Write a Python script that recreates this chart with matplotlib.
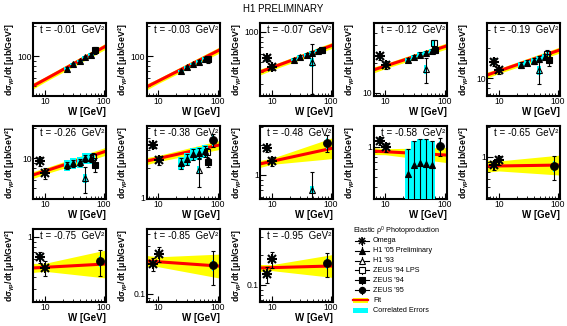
import numpy as np
import matplotlib
matplotlib.use("Agg")
import matplotlib.pyplot as plt
from matplotlib.patches import Rectangle
from matplotlib.ticker import LogLocator, FuncFormatter, NullFormatter

plt.rcParams['font.family'] = ['Liberation Sans', 'DejaVu Sans']
plt.rcParams['mathtext.fontset'] = 'custom'
plt.rcParams['mathtext.rm'] = 'Liberation Sans'
plt.rcParams['mathtext.it'] = 'Liberation Sans:italic'
plt.rcParams['mathtext.bf'] = 'Liberation Sans:bold'

# t bins [GeV^2]
t_bins = [-0.01, -0.03, -0.07, -0.12, -0.19, -0.26, -0.38, -0.48, -0.58, -0.65, -0.75, -0.85, -0.95]

# y range of every panel [mub/GeV^2]
y_lo = [39.8, 39.8, 22.9, 9.33, 6.61, 3.89, 0.977, 0.575, 0.302, 0.38, 0.224, 0.083, 0.0676]
y_hi = [214, 214, 123, 50.1, 35.5, 20.9, 5.25, 3.09, 1.62, 2.04, 1.20, 0.447, 0.363]
W_lim = [6.3, 108]
W_pivot = 10

# Regge fit: value at the two ends of the W range, error band half width (decades)
fit_left = [50.1, 49, 39.8, 17.0, 10.7, 6.76, 2.34, 1.29, 0.91, 0.81, 0.49, 0.214, 0.148]
fit_right = [126, 115, 74.1, 29.5, 19.1, 11.7, 3.39, 1.86, 0.83, 0.83, 0.537, 0.19, 0.155]
band_left = [0.03, 0.03, 0.03, 0.03, 0.03, 0.035, 0.035, 0.035, 0.035, 0.06, 0.045, 0.055, 0.035]
band_mid = [0.025, 0.025, 0.025, 0.025, 0.025, 0.03, 0.03, 0.03, 0.03, 0.05, 0.04, 0.05, 0.03]
band_right = [0.03, 0.03, 0.03, 0.03, 0.03, 0.04, 0.045, 0.105, 0.075, 0.10, 0.14, 0.12, 0.115]

# Omega
W_omega = [8.2, 10.2]
omega_val = [None, None, [55, 44.7], [23.4, 19.1], [14.5, 12.0], [9.3, 7.1], [3.39, 2.4],
             [1.86, 1.38], [1.15, 1.0], [0.83, 0.93], [0.63, 0.49], [0.20, 0.25], [0.129, 0.182]]
omega_err = [None, None, [4.0, 3.5], [2.0, 1.8], [1.2, 1.0], [0.9, 0.9], [0.25, 0.25],
             [0.15, 0.15], [0.1, 0.1], [0.09, 0.1], [0.08, 0.085], [0.03, 0.043], [0.024, 0.033]]

# H1 '05 preliminary (errors as fractions)
W_h105 = [24, 30, 39, 48, 61]
h105_val = [[75, 83, 89, 97, 103], [71, 77, 83, 88, 94], [53, 56, 59, 62, 65],
            [21.5, 23.0, 24.2, 25.2, 26.4], [13.5, 14.2, 14.8, 15.5, 16.3],
            [8.5, 8.9, 9.1, 10.0, 10.0], [2.24, 2.45, 2.75, 2.82, 2.95], None,
            [0.54, 0.66, 0.69, 0.68, 0.66], None, None, None, None]
h105_err = [0.03, 0.03, 0.04, 0.05, 0.06, 0.08, 0.12, None, 0.75, None, None, None, None]
h105_corr = [0.03, 0.03, 0.04, 0.05, 0.07, 0.12, 0.15, None, 0.75, None, None, None, None]

# H1 '93
W_h193 = 48
h193_val = [None, None, 50, 17.4, 12.0, 6.3, 1.91, 0.71, None, None, None, None, None]
h193_err = [None, None, 26, 4.9, 3.3, 1.8, 0.63, 0.36, None, None, None, None, None]

# ZEUS '94 LPS
W_lps = 66
lps_val = [None, None, None, 31.6, 17.5, 10.2, 2.88, None, None, None, None, None, None]
lps_err = [None, None, None, 2.5, 1.5, 1.0, 0.3, None, None, None, None, None, None]

# ZEUS '94
W_zeus94 = 70
zeus94_val = [114, 93, 66, 26.9, 15.3, 8.6, 2.29, None, None, None, None, None, None]
zeus94_err = [10, 8, 5, 2.0, 2.0, 1.3, 0.25, None, None, None, None, None, None]

# ZEUS '95
W_zeus95 = 84
zeus95_val = [None, None, None, None, None, None, 3.8, 2.09, 1.02, 0.81, 0.575, 0.195, 0.166]
zeus95_err = [None, None, None, None, None, None, 0.55, 0.4, 0.2, 0.22, 0.17, 0.073, 0.045]

FW, FH = 567, 326
fig = plt.figure(figsize=(FW / 100, FH / 100), dpi=100)


def corr_boxes(ax, W, vals, errs, dlog):
    for w, v, e in zip(W, vals, errs):
        ax.add_patch(Rectangle((w * 10 ** -dlog, v - e), w * (10 ** dlog - 10 ** -dlog), 2 * e,
                               facecolor='cyan', edgecolor='none', zorder=3))


def draw_marker(ax, x, y, marker, ms, mfc, mew=0.8, **kw):
    # the omega asterisk is a '+' laid over an 'x'
    if marker == 'star':
        ax.plot(x, y, linestyle='none', marker='+', ms=ms, mec='black', mew=mew, **kw)
        ax.plot(x, y, linestyle='none', marker='x', ms=ms * 0.75, mec='black', mew=mew, **kw)
    else:
        ax.plot(x, y, linestyle='none', marker=marker, ms=ms, mfc=mfc, mec='black', mew=mew, **kw)


def points(ax, W, vals, errs, marker, ms, mfc, mew=0.8):
    ax.errorbar(W, vals, yerr=errs, fmt='none', ecolor='black', elinewidth=0.8,
                capsize=1.3, capthick=0.8, zorder=4)
    draw_marker(ax, W, vals, marker, ms, mfc, mew, zorder=5)


for i, t in enumerate(t_bins):
    row, col = divmod(i, 5)
    left = 33 + 113.5 * col
    top = 23 + 103 * row
    ax = fig.add_axes([left / FW, 1 - (top + 73) / FH, 73 / FW, 73 / FH])
    ax.set_xscale('log')
    ax.set_yscale('log')
    ax.set_xlim(W_lim)
    ax.set_ylim(y_lo[i], y_hi[i])

    # fit and its error band
    f0, f1 = fit_left[i], fit_right[i]
    slope = np.log(f1 / f0) / np.log(W_lim[1] / W_lim[0])
    fmid = f0 * (W_pivot / W_lim[0]) ** slope
    centre = np.array([f0, fmid, f1])
    half = np.array([band_left[i], band_mid[i], band_right[i]])
    ax.fill_between([W_lim[0], W_pivot, W_lim[1]], centre * 10 ** -half, centre * 10 ** half,
                    color='yellow', lw=0, zorder=1)
    ax.plot(W_lim, [f0, f1], color='red', lw=2.2, zorder=2)

    if omega_val[i] is not None:
        v = np.array(omega_val[i])
        corr_boxes(ax, W_omega, v, 0.07 * v, 0.03)
        points(ax, W_omega, v, omega_err[i], 'star', 7, 'black', 1.5)
    if h105_val[i] is not None:
        v = np.array(h105_val[i])
        corr_boxes(ax, W_h105, v, h105_corr[i] * v, 0.05)
        points(ax, W_h105, v, h105_err[i] * v, '^', 5, 'black')
    if h193_val[i] is not None:
        v = h193_val[i]
        corr_boxes(ax, [W_h193], [v], [0.1 * v], 0.03)
        points(ax, [W_h193], [v], [h193_err[i]], '^', 5, 'none')
    if lps_val[i] is not None:
        v = lps_val[i]
        corr_boxes(ax, [W_lps], [v], [0.06 * v], 0.025)
        points(ax, [W_lps], [v], [lps_err[i]], 's', 4.5, 'none')
    if zeus94_val[i] is not None:
        v = zeus94_val[i]
        corr_boxes(ax, [W_zeus94], [v], [0.06 * v], 0.025)
        points(ax, [W_zeus94], [v], [zeus94_err[i]], 's', 4.5, 'black')
    if zeus95_val[i] is not None:
        v = zeus95_val[i]
        corr_boxes(ax, [W_zeus95], [v], [0.12 * v], 0.012)
        points(ax, [W_zeus95], [v], [zeus95_err[i]], 'o', 5.5, 'black')

    ax.text(0.1, 0.9, 't = %g  GeV²' % t, transform=ax.transAxes, ha='left', va='center',
            fontsize=7, zorder=6)

    for axis in (ax.xaxis, ax.yaxis):
        axis.set_major_locator(LogLocator(base=10))
        axis.set_minor_locator(LogLocator(base=10, subs=range(2, 10), numticks=20))
        axis.set_major_formatter(FuncFormatter(lambda v, p: '%g' % v))
        axis.set_minor_formatter(NullFormatter())
    ax.tick_params(which='both', direction='in', labelsize=6.2, pad=0.8)
    ax.tick_params(which='major', length=4, width=0.8)
    ax.tick_params(which='minor', length=2, width=0.6)
    for s in ax.spines.values():
        s.set_linewidth(1.5)

    ax.set_xlabel('W [GeV]', fontsize=7, fontweight='bold', loc='right')
    ax.xaxis.set_label_coords(1.0, -0.15)
    ax.set_ylabel('dσ$_{\\mathregular{γp}}$/dt [μb/GeV²]', fontsize=6.3, fontweight='bold')
    ax.yaxis.set_label_coords(-0.22, 0.5)

fig.text(283 / FW, 1 - 9 / FH, 'H1 PRELIMINARY', ha='center', va='center', fontsize=7)

# legend drawn in pixel coordinates
lax = fig.add_axes([0, 0, 1, 1])
lax.set_xlim(0, FW)
lax.set_ylim(FH, 0)
lax.axis('off')
lax.text(353, 231, 'Elastic ρ$^{\\mathregular{0}}$ Photoproduction', fontsize=5.2, va='center')

legend_entries = [
    ('Omega', 'star', 'black', 5.5, 1.1),
    ("H1 '05 Preliminary", '^', 'black', 4.2, 0.8),
    ("H1 '93", '^', 'white', 4.2, 0.8),
    ("ZEUS '94 LPS", 's', 'white', 4.2, 0.8),
    ("ZEUS '94", 's', 'black', 4.2, 0.8),
    ("ZEUS '95", 'o', 'black', 4.5, 0.8),
]
for k, (label, m, fc, ms, mew) in enumerate(legend_entries):
    y = 241 + 9.8 * k
    lax.plot([355, 369], [y, y], color='black', lw=0.8)
    lax.plot([362, 362], [y - 3.5, y + 3.5], color='black', lw=0.8)
    draw_marker(lax, [362], [y], m, ms, fc, mew)
    lax.text(373, y, label, fontsize=5.2, va='center')

lax.add_patch(Rectangle((353, 297.5), 15, 5, facecolor='yellow', edgecolor='none'))
lax.plot([353, 368], [300, 300], color='red', lw=1.6)
lax.text(373, 300, 'Fit', fontsize=5.2, va='center')
lax.add_patch(Rectangle((353, 307.5), 15, 5, facecolor='cyan', edgecolor='none'))
lax.text(373, 310, 'Correlated Errors', fontsize=5.2, va='center')

fig.savefig('out.png', dpi=100)
